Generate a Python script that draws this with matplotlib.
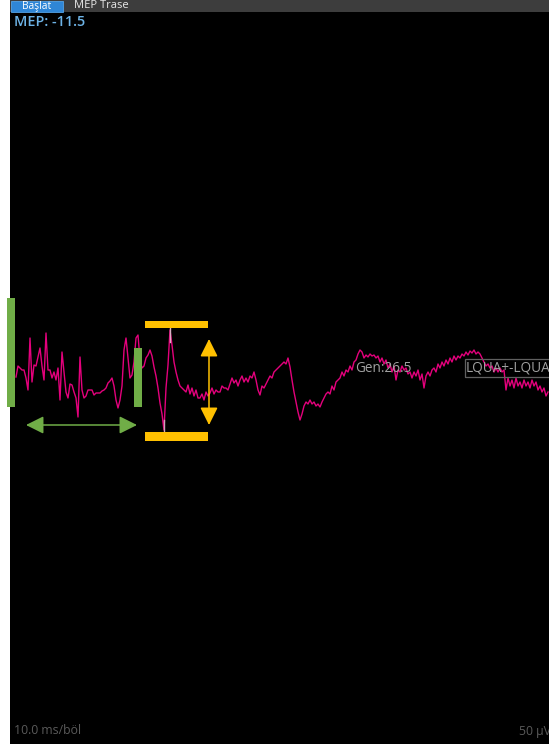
import numpy as np
import matplotlib
matplotlib.use("Agg")
import matplotlib.pyplot as plt
from matplotlib.patches import Rectangle, FancyArrowPatch

plt.rcParams['font.family'] = ['Open Sans', 'DejaVu Sans']

# MEP trace, sampled every 0.4 ms (amplitude in µV)
SAMPLE_MS = 0.4
uv = [
    3, 14, 12, 10, 10, 2, -10, 42, -2, 15, 14, 23, 32, 14, 0, 47, 10, 10, 2, 8,
    0, 12, -20, 28, 8, -12, -18, -4, -5, -12, -18, -37, 23, -10, -18, -16, -10, -10, -10, -15,
    -13, -13,
    -13, -11, -10, -8, -3, -1, 2, -6, -20, -28, -20, -6, 30, 42, 22, 2, 5, 18, 42, 45,
    20, 12, 14, 22, 25, 30, 24, 13, 4, -8, -23, -34, -50, -8, 15, 50, 35, 18, 8, 0,
    -6, -8, -10, -12, -5, -14, -8, -16, -10, -18,
    -18, -14, -20, -12, -16, -13, -8, -14, -10, -12,
    -12, -6, -8, -8, -10, -4, 2, -3, 0, -6,
    0, 4, -2, 2, -2, 4, 2, 8, 0, -10,
    -15, -6, -8, -4, 0, 4, 2, 8, 10, 12,
    14, 16, 18, 16, 22, 13, 0, -12, -22, -32,
    -40, -34, -26, -22, -24, -20, -24, -22, -26, -24,
    -27, -22, -18, -14, -12, -14, -6, -10, -2, 0,
    2, 8, 4, 10, 8, 14, 10, 18, 20, 26,
    30, 28, 22, 25, 23, 26, 24, 25, 22, 24,
    18, 22, 16, 20, 12, 16, 8, 14, 0, 10,
    8, 14, 10, 12, 6, 8, 2, 8, 4, 10,
    0, 6, -8, 4, 8, 4, 10, 12, 8, 16,
    12, 18, 14, 20, 16, 22, 18, 24, 20, 24,
    22, 26, 24, 28, 25, 29, 27, 30, 26, 28,
    26, 22, 18, 14, 16, 12, 14, 8, 12, 8,
    12, 8, 10, -10, 2, -6, 0, -8, 2, -6,
    -2, -8, 0, -6, -2, -8, 0, -6, -2, -10,
    -6, -12, -8, -16, -12,
]

# Baseline window and response window (ms)
baseline_window = (0.0, 24.4)
response_window = (26.0, 38.6)

mep_value = "-11.5"
gen_value = "26.5"
channel_label = "LQUA+-LQUA-"
sweep_label = "10.0 ms/böl"
gain_label = "50 µV/böl"

TRACE = '#e4007c'
GREEN = '#70ad47'
YELLOW = '#ffc000'

W, H = 549, 744
fig = plt.figure(figsize=(W / 100, H / 100), dpi=100, facecolor='white')

# Screen panel
ax = fig.add_axes([10 / W, 0, 539 / W, 732 / H])
ax.set_facecolor('black')
ax.set_xlim(-1.2, 106.6)
ax.set_ylim(-364, 368)
ax.set_xticks([])
ax.set_yticks([])
for s in ax.spines.values():
    s.set_visible(False)

t = np.arange(len(uv)) * SAMPLE_MS
v = np.array(uv, dtype=float)
ax.plot(t, v, color=TRACE, lw=1.0, zorder=3, solid_joinstyle='round')

# Peak / trough in the response window
m = (t >= response_window[0]) & (t <= response_window[1])
i_max = np.where(m)[0][np.argmax(v[m])]
i_min = np.where(m)[0][np.argmin(v[m])]
vmax, vmin = v[i_max], v[i_min]

# Cursor ticks on peak and trough
ax.plot([t[i_max], t[i_max]], [vmax + 2, vmax - 12], color='#d9b0c4', lw=1.0, zorder=4)
ax.plot([t[i_min], t[i_min]], [vmin - 2, vmin + 10], color='#c9a6b8', lw=1.0, zorder=4)

# Yellow peak / trough bars
bar_x0, bar_x1 = 25.8, 38.4
ax.add_patch(Rectangle((bar_x0, vmax + 2), bar_x1 - bar_x0, 7, color=YELLOW, zorder=5, lw=0))
ax.add_patch(Rectangle((bar_x0, vmin - 11), bar_x1 - bar_x0, 9, color=YELLOW, zorder=5, lw=0))

# Peak-to-peak amplitude arrow
arr = FancyArrowPatch((38.6, vmax - 9), (38.6, vmin + 5),
                      arrowstyle='<|-|>,head_length=10.8,head_width=5.4',
                      mutation_scale=1, color=YELLOW, lw=1.1, zorder=5,
                      shrinkA=0, shrinkB=0)
ax.add_patch(arr)

# Green baseline markers
ax.add_patch(Rectangle((-1.8, -27), 1.6, 109, color=GREEN, zorder=5, lw=0, clip_on=False))
ax.add_patch(Rectangle((23.6, -27), 1.6, 59, color=GREEN, zorder=5, lw=0))
g_arr = FancyArrowPatch((baseline_window[0] + 2.0, -45), (baseline_window[1] - 0.2, -45),
                        arrowstyle='<|-|>,head_length=10.8,head_width=5.4',
                        mutation_scale=1, color=GREEN, lw=1.1, zorder=5,
                        shrinkA=0, shrinkB=0)
ax.add_patch(g_arr)

# Trace annotations
ax.text(67.8, 11, f"Gen:{gen_value}", color='#a0a0a0', fontsize=9.8,
        va='center', ha='left', zorder=6)
ax.text(90.0, 12, channel_label, color='#a0a0a0', fontsize=9.8,
        va='center', ha='left', zorder=6,
        bbox=dict(boxstyle='square,pad=0.1', fc='none', ec='#606060', lw=0.9))

# Readout and scale labels
fig.text(14 / W, 1 - 22 / H, f"MEP: {mep_value}", color='#6db3e6', fontsize=10.4,
         fontweight='semibold', va='center', ha='left')
fig.text(14 / W, 1 - 731 / H, sweep_label, color='#5a5a5a', fontsize=8.8,
         va='center', ha='left')
fig.text(519 / W, 1 - 731 / H, gain_label, color='#5a5a5a', fontsize=8.8,
         va='center', ha='left')

# Tab strip
fig.patches.append(Rectangle((10 / W, 1 - 12 / H), 539 / W, 12 / H, transform=fig.transFigure,
                             color='#3d3d3d', lw=0, zorder=0))
fig.patches.append(Rectangle((11 / W, 1 - 11.5 / H), 52 / W, 11 / H, transform=fig.transFigure,
                             fc='#2f86d6', ec='#55a2e4', lw=0.6, zorder=1))
fig.text(36.5 / W, 1 - 6 / H, "Başlat", color='white', fontsize=7.4, va='center', ha='center')
fig.text(74 / W, 1 - 6 / H, "MEP Trase", color='#e8e8e8', fontsize=8.0, va='center', ha='left')

fig.savefig('out.png', dpi=100, facecolor='white')
